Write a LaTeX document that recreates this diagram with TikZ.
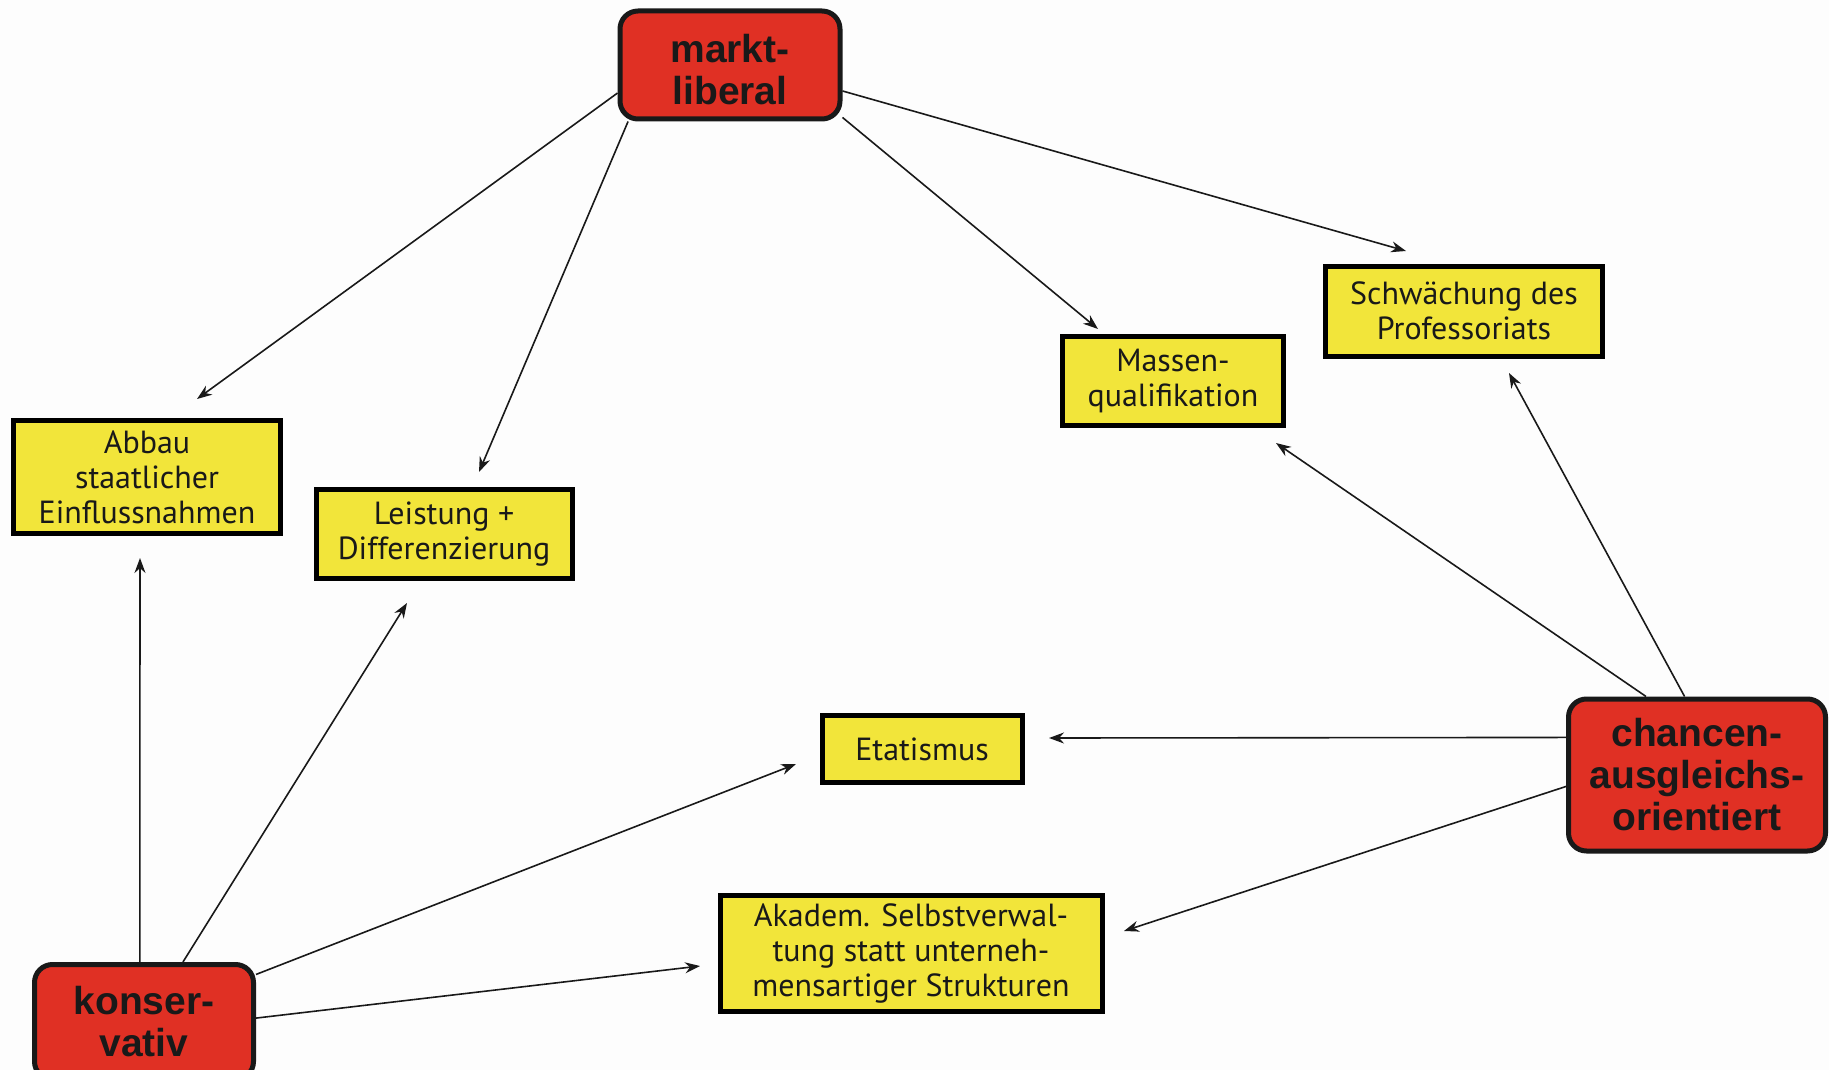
\documentclass[tikz,border=0pt]{standalone}
\usepackage{fontspec}
\usetikzlibrary{arrows.meta}
\newfontfamily\yfont{PT Sans}
\newfontfamily\rfont{Liberation Sans}
\definecolor{rboxc}{RGB}{224,48,36}
\definecolor{yboxc}{RGB}{242,229,58}
\definecolor{bgc}{RGB}{253,253,253}
\tikzset{
  ybox/.style={draw=black, line width=5pt, fill=yboxc, rectangle, align=center, inner sep=0pt,
    font=\yfont\fontsize{32}{35}\selectfont, text=black!90},
  rbox/.style={draw=black!90, line width=5pt, fill=rboxc, rectangle, rounded corners=18pt, align=center, inner sep=0pt,
    font=\rfont\bfseries\fontsize{39}{42}\selectfont, text=black!90},
  arr/.style={draw=black!90, line width=1.6pt, -{Stealth[length=15pt,width=11pt]}}
}
\begin{document}
\begin{tikzpicture}[x=1pt,y=-1pt]
\useasboundingbox (0,0) rectangle (1829,1070);
\fill[bgc] (0,0) rectangle (1829,1070);
\node[rbox, minimum width=220pt, minimum height=108pt] (m) at (730,65) {\raisebox{-5pt}[\height][\depth]{\parbox{200pt}{\centering markt-\\liberal}}};
\node[ybox, minimum width=267pt, minimum height=113pt] (a) at (147,477) {Abbau\\staatlicher\\Einflussnahmen};
\node[ybox, minimum width=256pt, minimum height=89pt] (l) at (444,534) {Leistung +\\Differenzierung};
\node[ybox, minimum width=221pt, minimum height=89pt] (ms) at (1173,381) {Massen-\\qualifikation};
\node[ybox, minimum width=277pt, minimum height=90pt] (s) at (1464,311) {Schwächung des\\Professoriats};
\node[ybox, minimum width=200pt, minimum height=67pt] (e) at (922,749) {Etatismus};
\node[ybox, minimum width=382pt, minimum height=116pt] (ak) at (911,953) {Akadem. Selbstverwal-\\tung statt unterneh-\\mensartiger Strukturen};
\node[rbox, minimum width=257pt, minimum height=152pt] (c) at (1697,775) {chancen-\\ausgleichs-\\orientiert};
\node[rbox, minimum width=219pt, minimum height=115pt] (k) at (144,1022) {konser-\\vativ};
\coordinate (e1) at (197,399);
\coordinate (e2) at (479,472);
\coordinate (e3) at (1098,329);
\coordinate (e4) at (1406,251);
\coordinate (e5) at (1276,443);
\coordinate (e6) at (1509,373);
\coordinate (e7) at (1049,738);
\coordinate (e8) at (1124,931);
\coordinate (e9) at (140,558);
\coordinate (e10) at (407,603);
\coordinate (e11) at (796,764);
\coordinate (e12) at (700,966);
\draw[arr] (m.194) -- (e1);
\draw[arr] (m.209.6) -- (e2);
\draw[arr] (m.335.4) -- (e3);
\draw[arr] (m.347.9) -- (e4);
\draw[arr] (c.123.9) -- (e5);
\draw[arr] (c.99.3) -- (e6);
\draw[arr] (c.164.1) -- (e7);
\draw[arr] (c.185.3) -- (e8);
\draw[arr] (k.94) -- (e9);
\draw[arr] (k.57.7) -- (e10);
\draw[arr] (k.23.8) -- (e11);
\draw[arr] (k.2.5) -- (e12);
\end{tikzpicture}
\end{document}
